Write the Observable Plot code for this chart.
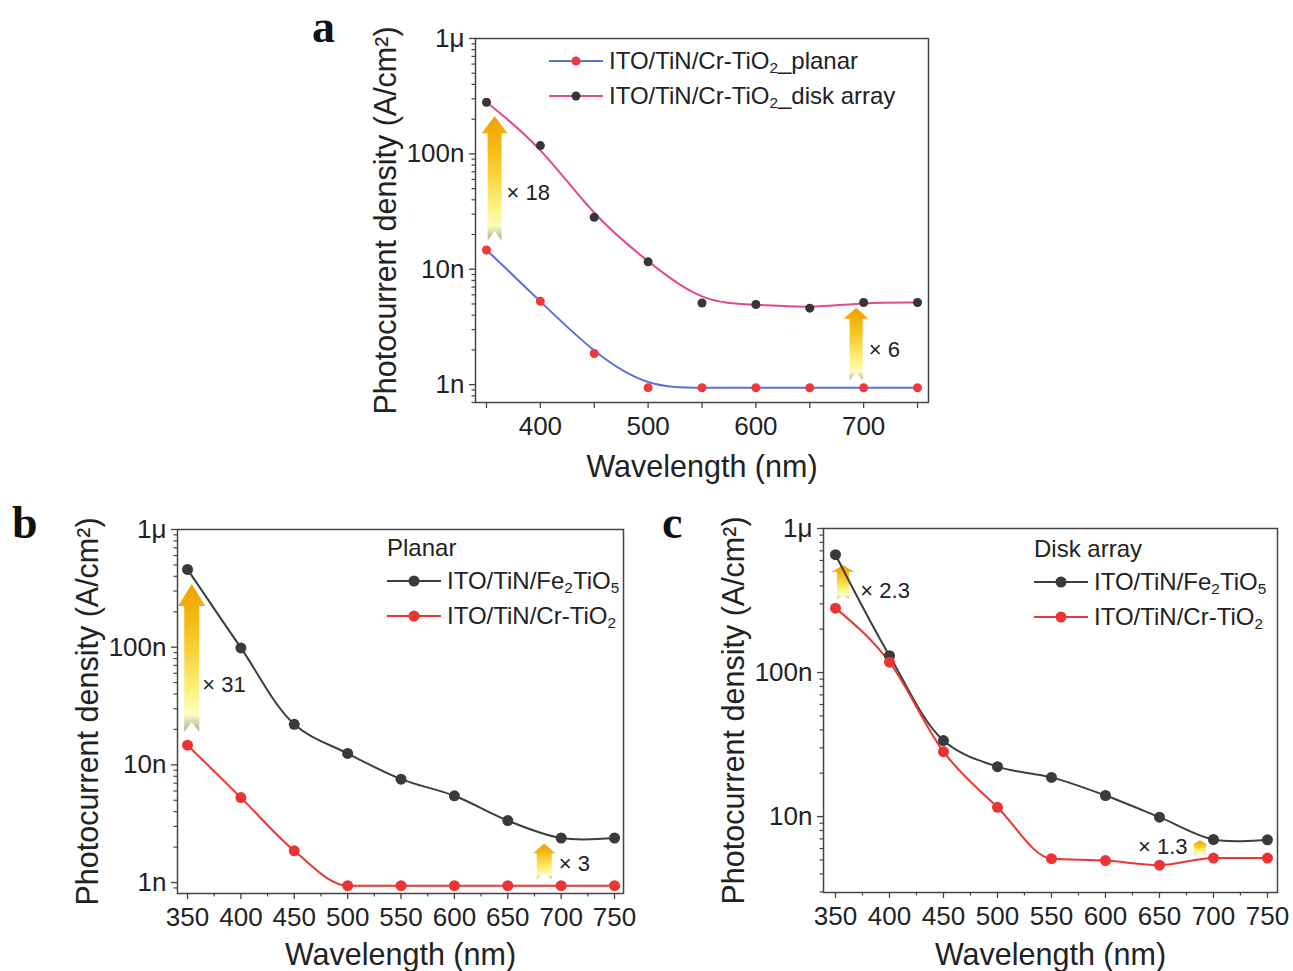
<!DOCTYPE html>
<html><head><meta charset="utf-8">
<script src="https://cdn.jsdelivr.net/npm/d3@7"></script>
<script src="https://cdn.jsdelivr.net/npm/@observablehq/plot@0.6"></script>
<style>
body{margin:0;background:#fff;}
#root{position:relative;width:1293px;height:971px;overflow:hidden;font-family:"Liberation Sans",Arial,sans-serif;color:#222;}
.letter{position:absolute;font-family:"Liberation Serif","Times New Roman",serif;font-weight:bold;font-size:46px;line-height:1;color:#111;}
.legend{position:absolute;font-size:24px;color:#222;line-height:1;}
.legend .row{position:relative;display:flex;align-items:center;height:35px;white-space:nowrap;}
.legend .ttl{height:30px;display:flex;align-items:center;}
.legend sub{font-size:0.64em;position:relative;top:0.3em;vertical-align:baseline;line-height:0;}
.legend svg{flex:none;margin-right:6px;}
</style></head>
<body>
<svg width="0" height="0" style="position:absolute">
  <defs>
    <linearGradient id="arrowGrad" x1="0" y1="0" x2="0" y2="1">
      <stop offset="0" stop-color="#f0a000"/>
      <stop offset="0.3" stop-color="#f6bf18"/>
      <stop offset="0.72" stop-color="#fcf27e"/>
      <stop offset="0.88" stop-color="#fdfcc0"/>
      <stop offset="1" stop-color="#a9a992"/>
    </linearGradient>
  </defs>
</svg>
<div id="root"></div>
<script>
// ---------------- data (photocurrent density, nA/cm²) ----------------
const wavelengths = [350, 400, 450, 500, 550, 600, 650, 700, 750];
const crTiO2Planar = [14.7, 5.27, 1.86, 0.94, 0.94, 0.94, 0.94, 0.94, 0.94];
const crTiO2Disk   = [280, 118, 28.2, 11.6, 5.1, 4.95, 4.6, 5.15, 5.15];
const fe2TiO5Planar = [458, 98.6, 22.1, 12.5, 7.56, 5.46, 3.36, 2.39, 2.39];
const fe2TiO5Disk   = [658, 131, 33.7, 22.2, 18.7, 14.0, 9.9, 6.93, 6.9];

const yTickValues = [1, 10, 100, 1000];
const yTickLabels = ["1n", "10n", "100n", "1μ"];

// enhancement annotations: arrow x, arrow bottom, arrow top, label x, label y, label, anchor
const annA_x = [358, 693.5], annA_from = [17.5, 1.08], annA_to = [210, 4.6];
const annA_lx = [368.6, 704.7], annA_ly = [46, 2.0], annA_text = ["× 18", "× 6"], annA_anchor = ["start", "start"];
const annB_x = [354.4, 684.6], annB_from = [18.8, 1.06], annB_to = [341, 2.13];
const annB_lx = [363.8, 697.7], annB_ly = [47.6, 1.45], annB_text = ["× 31", "× 3"], annB_anchor = ["start", "start"];
const annC_x = [357.4, 688], annC_from = [321, 5.36], annC_to = [553, 6.8];
const annC_lx = [373, 676], annC_ly = [371, 6.12], annC_text = ["× 2.3", "× 1.3"], annC_anchor = ["start", "end"];

// arrow shapes (px): head width, shaft width, head length, notch depth
const arrowShapeA = [[26, 14, 17, 10], [25, 13, 11, 8]];
const arrowShapeB = [[27, 15, 22, 10], [23, 15, 10, 6]];
const arrowShapeC = [[23, 12, 7, 4], [14, 12, 4, 2]];

const table = (vals) => wavelengths.map((w, i) => ({w, v: vals[i]}));

function minorTicks(lo, hi) {
  const out = [];
  for (let d = 0.1; d <= 1000; d *= 10) for (let k = 2; k <= 9; k++) {
    const v = +(k * d).toPrecision(3);
    if (v >= lo && v <= hi) out.push(v);
  }
  return out;
}

function arrowMark(xs, froms, tos, shapes) {
  return (index, scales) => {
    const g = d3.create("svg:g");
    xs.forEach((xv, i) => {
      const X = scales.x(xv), Yt = scales.y(tos[i]), Yb = scales.y(froms[i]);
      const [hw, sw, hl, notch] = shapes[i];
      const p = [
        [X, Yt], [X + hw / 2, Yt + hl], [X + sw / 2, Yt + hl], [X + sw / 2, Yb],
        [X, Yb - notch], [X - sw / 2, Yb], [X - sw / 2, Yt + hl], [X - hw / 2, Yt + hl]
      ];
      g.append("path").attr("d", "M" + p.map(q => q.join(",")).join("L") + "Z")
        .attr("fill", "url(#arrowGrad)");
    });
    return g.node();
  };
}

function panel(cfg) {
  const marks = [
    arrowMark(cfg.ax, cfg.afrom, cfg.ato, cfg.ashape),
    ...cfg.series.map(s => Plot.line(table(s.vals), {x: "w", y: "v", stroke: s.line, strokeWidth: 2, curve: s.curve})),
    ...cfg.series.map(s => Plot.dot(table(s.vals), {x: "w", y: "v", fill: s.dot, r: cfg.r})),
    ...cfg.ltext.map((t, i) => Plot.text([t], {x: () => cfg.lx[i], y: () => cfg.ly[i], text: d => d,
      textAnchor: cfg.lanchor[i], fontSize: 22, fill: "#222"})),
    Plot.frame({stroke: "#444", strokeWidth: 1.5}),
    Plot.axisY(yTickValues.filter(v => v >= cfg.ydom[0]), {tickSize: 6, tickPadding: 5,
      tickFormat: d => yTickLabels[yTickValues.indexOf(d)], label: null, fontSize: 26, stroke: "#444", strokeWidth: 1.3}),
    Plot.axisY(minorTicks(cfg.ydom[0], cfg.ydom[1]), {tickSize: 3.5, fill: "none", label: null, stroke: "#444", strokeWidth: 1.2}),
    Plot.axisX(cfg.xmajor, {tickSize: 6, tickPadding: 8, tickFormat: cfg.xfmt, label: null, fontSize: 26, stroke: "#444", strokeWidth: 1.3}),
    ...(cfg.xminor ? [Plot.axisX(cfg.xminor, {tickSize: 3.5, fill: "none", label: null, stroke: "#444", strokeWidth: 1.2})] : []),
    Plot.text(["Wavelength (nm)"], {frameAnchor: "bottom", dy: cfg.xtdy, lineAnchor: "middle", textAnchor: "middle",
      text: d => d, fontSize: 30.5, fill: "#222"}),
    Plot.text(["Photocurrent density (A/cm²)"], {frameAnchor: "left", dx: -89, rotate: -90, lineAnchor: "middle",
      textAnchor: "middle", text: d => d, fontSize: 30.5, fill: "#222"})
  ];
  const svg = Plot.plot({
    width: cfg.width, height: cfg.height,
    marginLeft: cfg.ml, marginRight: cfg.mr, marginTop: cfg.mt, marginBottom: cfg.mb,
    x: {domain: cfg.xdom, label: null},
    y: {type: "log", domain: cfg.ydom, label: null},
    style: {fontFamily: "'Liberation Sans', Arial, sans-serif", color: "#222", background: "transparent", overflow: "visible"},
    marks
  });
  svg.style.position = "absolute";
  svg.style.left = cfg.left + "px";
  svg.style.top = cfg.top + "px";
  document.getElementById("root").appendChild(svg);
}

const x50 = d3.range(350, 751, 50);
const x25 = d3.range(375, 751, 50);

panel({
  left: 340, top: 0, width: 600, height: 490, ml: 135, mr: 12, mt: 38, mb: 88,
  xdom: [339.8, 760.2], ydom: [0.7, 1000], r: 4.5,
  xmajor: x50, xfmt: d => (d % 100 === 0 ? d : ""), xminor: null, xtdy: 65,
  series: [
    {vals: crTiO2Disk, line: "#e5468f", dot: "#35353a", curve: "basis"},
    {vals: crTiO2Planar, line: "#5b6fe0", dot: "#f03a3a", curve: "basis"}
  ],
  ax: annA_x, afrom: annA_from, ato: annA_to, ashape: arrowShapeA,
  lx: annA_lx, ly: annA_ly, ltext: annA_text, lanchor: annA_anchor
});

panel({
  left: 40, top: 500, width: 610, height: 471, ml: 137, mr: 27, mt: 29, mb: 78,
  xdom: [340.6, 758.4], ydom: [0.807, 1000], r: 5.5,
  xmajor: x50, xfmt: d => d, xminor: x25, xtdy: 62,
  series: [
    {vals: fe2TiO5Planar, line: "#3d3d3d", dot: "#3a3a3e", curve: "catmull-rom"},
    {vals: crTiO2Planar, line: "#ea3636", dot: "#ec3434", curve: "monotone-x"}
  ],
  ax: annB_x, afrom: annB_from, ato: annB_to, ashape: arrowShapeB,
  lx: annB_lx, ly: annB_ly, ltext: annB_text, lanchor: annB_anchor
});

panel({
  left: 690, top: 500, width: 603, height: 471, ml: 133, mr: 16, mt: 28, mb: 79,
  xdom: [338.9, 759.3], ydom: [2.97, 1000], r: 5.5,
  xmajor: x50, xfmt: d => d, xminor: x25, xtdy: 63,
  series: [
    {vals: fe2TiO5Disk, line: "#3d3d3d", dot: "#3a3a3e", curve: "catmull-rom"},
    {vals: crTiO2Disk, line: "#ea3636", dot: "#ec3434", curve: "monotone-x"}
  ],
  ax: annC_x, afrom: annC_from, ato: annC_to, ashape: arrowShapeC,
  lx: annC_lx, ly: annC_ly, ltext: annC_text, lanchor: annC_anchor
});

// ---------------- legends & panel letters (HTML) ----------------
function sample(line, dot, r) {
  return `<svg width="54" height="20"><line x1="0" x2="54" y1="10" y2="10" stroke="${line}" stroke-width="2"/><circle cx="27" cy="10" r="${r}" fill="${dot}"/></svg>`;
}
function legend(left, top, title, rows) {
  const d = document.createElement("div");
  d.className = "legend";
  d.style.left = left + "px"; d.style.top = top + "px";
  d.innerHTML = (title ? `<div class="ttl">${title}</div>` : "") +
    rows.map(r => `<div class="row">${sample(r.line, r.dot, r.r)}<span>${r.html}</span></div>`).join("");
  document.getElementById("root").appendChild(d);
}
legend(549, 43, null, [
  {line: "#5b6fe0", dot: "#f03a3a", r: 4.5, html: "ITO/TiN/Cr-TiO<sub>2</sub>_planar"},
  {line: "#e5468f", dot: "#35353a", r: 4.5, html: "ITO/TiN/Cr-TiO<sub>2</sub>_disk array"}
]);
legend(387, 533, "Planar", [
  {line: "#3d3d3d", dot: "#3a3a3e", r: 5.5, html: "ITO/TiN/Fe<sub>2</sub>TiO<sub>5</sub>"},
  {line: "#ea3636", dot: "#ec3434", r: 5.5, html: "ITO/TiN/Cr-TiO<sub>2</sub>"}
]);
legend(1034, 534, "Disk array", [
  {line: "#3d3d3d", dot: "#3a3a3e", r: 5.5, html: "ITO/TiN/Fe<sub>2</sub>TiO<sub>5</sub>"},
  {line: "#ea3636", dot: "#ec3434", r: 5.5, html: "ITO/TiN/Cr-TiO<sub>2</sub>"}
]);

const letters = [["a", 312, 4], ["b", 12, 500], ["c", 662, 500]];
letters.forEach(([t, l, tp]) => {
  const d = document.createElement("div");
  d.className = "letter"; d.textContent = t;
  d.style.left = l + "px"; d.style.top = tp + "px";
  document.getElementById("root").appendChild(d);
});
</script>
</body></html>
